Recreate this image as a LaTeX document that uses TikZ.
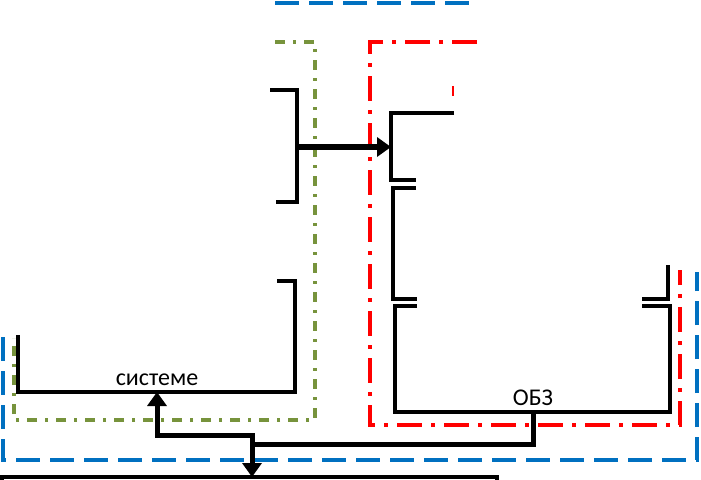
\documentclass[tikz,border=0pt]{standalone}
\usepackage{fontspec}
\setmainfont{Carlito}
\usetikzlibrary{arrows.meta}
\definecolor{bl}{HTML}{0070C0}
\definecolor{gr}{HTML}{77933C}
\definecolor{rd}{HTML}{FF0000}
\tikzset{
  box/.style={draw=black, line width=3.8pt, line join=miter},
  conn/.style={draw=black, line width=5pt},
  tip/.style={-{Triangle[length=14pt,width=19pt]}},
  bluedash/.style={draw=bl, line width=3.5pt, dash pattern=on 24pt off 10pt},
  greendash/.style={draw=gr, line width=3.5pt, dash pattern=on 10pt off 8pt on 3pt off 8pt},
  reddash/.style={draw=rd, line width=3.5pt, dash pattern=on 25pt off 9pt on 4pt off 9pt},
  lbl/.style={font=\fontsize{24}{26}\selectfont, inner sep=0pt}
}
\begin{document}
\begin{tikzpicture}[x=1pt,y=-1pt]
\useasboundingbox (0,0) rectangle (701,479);
\clip (0,0) rectangle (701,479);
\fill[white] (0,0) rectangle (701,479);
% group frames
\draw[bluedash] (275,3) -- (470,3);
\draw[bluedash] (3,337) -- (3,460) -- (697,460) -- (697,272);
\draw[greendash] (275,42) -- (315,42) -- (315,420) -- (14,420) -- (14,338);
\draw[reddash] (477,42) -- (370,42) -- (370,425) -- (680,425) -- (680,270);
\draw[draw=rd, line width=2pt] (453,86) -- (453,96);
% boxes
\draw[box] (270,90) -- (297,90) -- (297,202) -- (276,202);
\draw[box] (454,113) -- (391,113) -- (391,180) -- (416,180);
\draw[box] (416,188) -- (393,188) -- (393,299) -- (417,299);
\draw[box] (642,299) -- (668,299) -- (668,265);
\draw[box] (417,306) -- (395,306) -- (395,412) -- (670,412) -- (670,306) -- (642,306);
\draw[box] (18,335) -- (18,392) -- (295,392) -- (295,281) -- (277,281);
\draw[box] (2,490) -- (2,477) -- (497,477) -- (497,490);
% anchor points
\coordinate (Aout) at (297,147);
\coordinate (Bin) at (391,147);
\coordinate (Dbot) at (533,412);
\coordinate (Fbot) at (157,392);
\coordinate (Etop) at (252,477);
\coordinate (J1) at (252,435);
\coordinate (J2) at (252,444);
% labels
\node[lbl] (fl) at (157,380) {системе};
\node[lbl] (dl) at (533,398) {ОБЗ};
% connectors
\draw[conn, line width=6pt, tip] (Aout) -- (Bin);
\draw[conn, {Triangle[length=14pt,width=19pt]}-{Triangle[length=14pt,width=19pt]}] (Fbot) |- (J1) -- (Etop);
\draw[conn] (Dbot) |- (J2);
\end{tikzpicture}
\end{document}
